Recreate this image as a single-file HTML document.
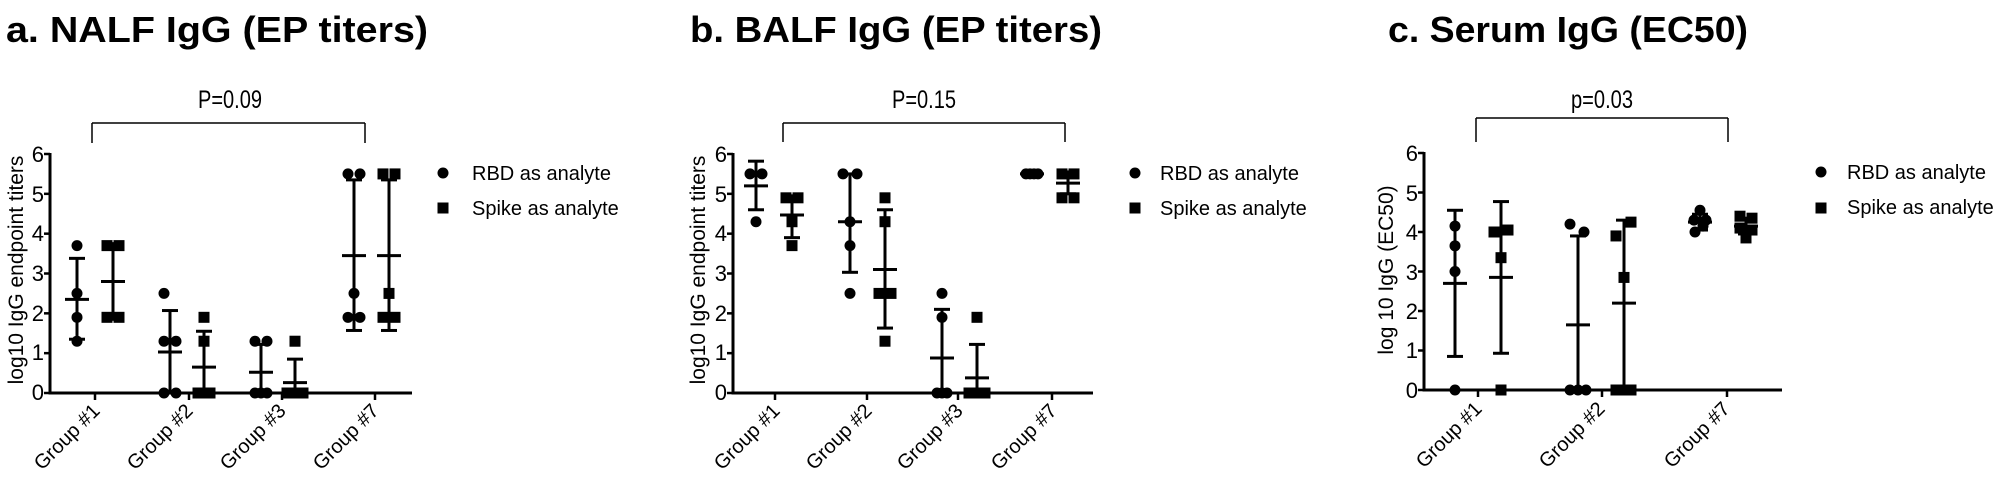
<!DOCTYPE html>
<html><head><meta charset="utf-8"><style>
html,body{margin:0;padding:0;background:#fff;}
svg{display:block;}
text{font-family:"Liberation Sans",Arial,sans-serif;fill:#000;}
.t{font-weight:bold;font-size:36px;}
.p{font-size:25px;}
.tk{font-size:22px;}
.lg{font-size:20px;}
.yl{font-size:21px;}
.gl{font-size:20px;}
</style></head><body>
<svg id="s" width="2006" height="495" viewBox="0 0 2006 495" xmlns="http://www.w3.org/2000/svg">
<g id="g"></g>
<text class="t" x="6" y="42" textLength="422" lengthAdjust="spacingAndGlyphs">a.  NALF IgG (EP titers)</text>
<text class="t" x="690" y="42" textLength="412" lengthAdjust="spacingAndGlyphs">b. BALF IgG (EP titers)</text>
<text class="t" x="1388" y="42" textLength="360" lengthAdjust="spacingAndGlyphs">c.  Serum IgG (EC50)</text>
<text class="p" x="230" y="108" text-anchor="middle" textLength="64" lengthAdjust="spacingAndGlyphs">P=0.09</text>
<text class="p" x="924" y="108" text-anchor="middle" textLength="64" lengthAdjust="spacingAndGlyphs">P=0.15</text>
<text class="p" x="1602" y="108" text-anchor="middle" textLength="62" lengthAdjust="spacingAndGlyphs">p=0.03</text>
<text class="yl" transform="translate(23,270) rotate(-90)" text-anchor="middle">log10 IgG endpoint titers</text>
<text class="yl" transform="translate(705,270) rotate(-90)" text-anchor="middle">log10 IgG endpoint titers</text>
<text class="yl" transform="translate(1393,270) rotate(-90)" text-anchor="middle">log 10 IgG (EC50)</text>
<g class="tk" text-anchor="end">
<text x="44" y="400">0</text><text x="44" y="360">1</text><text x="44" y="321">2</text><text x="44" y="281">3</text><text x="44" y="241">4</text><text x="44" y="202">5</text><text x="44" y="162">6</text>
<text x="727" y="400">0</text><text x="727" y="360">1</text><text x="727" y="321">2</text><text x="727" y="281">3</text><text x="727" y="241">4</text><text x="727" y="202">5</text><text x="727" y="162">6</text>
<text x="1418" y="398">0</text><text x="1418" y="358">1</text><text x="1418" y="319">2</text><text x="1418" y="280">3</text><text x="1418" y="240">4</text><text x="1418" y="201">5</text><text x="1418" y="161">6</text>
</g>
<g class="gl" text-anchor="end">
<text transform="translate(101,412) rotate(-45)">Group #1</text>
<text transform="translate(194,412) rotate(-45)">Group #2</text>
<text transform="translate(287,412) rotate(-45)">Group #3</text>
<text transform="translate(380,412) rotate(-45)">Group #7</text>
<text transform="translate(781,412) rotate(-45)">Group #1</text>
<text transform="translate(873,412) rotate(-45)">Group #2</text>
<text transform="translate(964,412) rotate(-45)">Group #3</text>
<text transform="translate(1058,412) rotate(-45)">Group #7</text>
<text transform="translate(1483,410) rotate(-45)">Group #1</text>
<text transform="translate(1606,410) rotate(-45)">Group #2</text>
<text transform="translate(1731,410) rotate(-45)">Group #7</text>
</g>
<g class="lg">
<text x="472" y="180">RBD as analyte</text><text x="472" y="215">Spike as analyte</text>
<text x="1160" y="180">RBD as analyte</text><text x="1160" y="215">Spike as analyte</text>
<text x="1847" y="179">RBD as analyte</text><text x="1847" y="214">Spike as analyte</text>
</g>
</svg>
<script>
var g=document.getElementById('g'),NS='http://www.w3.org/2000/svg';
function el(t,a){var e=document.createElementNS(NS,t);for(var k in a)e.setAttribute(k,a[k]);g.appendChild(e);return e;}
function ln(x1,y1,x2,y2,w){el('line',{x1:x1,y1:y1,x2:x2,y2:y2,stroke:'#000','stroke-width':w||3});}
function circ(x,y){el('circle',{cx:x,cy:y,r:5.5,fill:'#000'});}
function sq(x,y){el('rect',{x:x-5.5,y:y-5.5,width:11,height:11,fill:'#000'});}
function panel(P){
 var Y=function(v){return P.y0-(P.y0-P.y6)*v/6;};
 ln(P.ax,P.y6-1,P.ax,P.y0+1.5,3);ln(P.ax,P.y0,P.end,P.y0,3);
 for(var i=0;i<=6;i++)ln(P.ax-6,Y(i),P.ax,Y(i),2.5);
 P.ticks.forEach(function(t){ln(t,P.y0,t,P.y0+7,2.5);});
 ln(P.br[0],P.br[2],P.br[1],P.br[2],1.5);ln(P.br[0],P.br[2],P.br[0],P.br[3],1.5);ln(P.br[1],P.br[2],P.br[1],P.br[3],1.5);
 circ(P.lx,P.ly1);sq(P.lx,P.ly2);
 P.data.forEach(function(d){
  var x=d.x;
  var lo=Math.max(0,d.lo),hi=d.hi;
  ln(x,Y(lo),x,Y(hi),3);
  if(d.lo>0.02)ln(x-8,Y(lo),x+8,Y(lo),3);
  ln(x-8,Y(hi),x+8,Y(hi),3);
  ln(x-12,Y(d.m),x+12,Y(d.m),3);
  d.pts.forEach(function(p){var px=x+(p[1]||0),py=Y(p[0]);if(d.s)sq(px,py);else circ(px,py);});
 });
}
panel({ax:50,end:412,y0:393,y6:154,ticks:[95,189,282,375],br:[92,365,123,143],lx:443,ly1:173,ly2:208,data:[
 {x:77,m:2.35,lo:1.35,hi:3.38,pts:[[3.7],[2.5],[1.9],[1.3]]},
 {x:113,s:1,m:2.8,lo:1.85,hi:3.75,pts:[[3.7,-6],[3.7,6],[1.9,-6],[1.9,6]]},
 {x:170,m:1.03,lo:0,hi:2.07,pts:[[2.5,-6],[1.3,-6],[1.3,6],[0,-6],[0,6]]},
 {x:204,s:1,m:0.65,lo:0,hi:1.55,pts:[[1.9],[1.3],[0,-6],[0,0],[0,6]]},
 {x:261,m:0.52,lo:0,hi:1.22,pts:[[1.3,-6],[1.3,6],[0,-6],[0,0],[0,6]]},
 {x:295,s:1,m:0.26,lo:0,hi:0.85,pts:[[1.3],[0,-8],[0,-3],[0,3],[0,8]]},
 {x:354,m:3.45,lo:1.57,hi:5.35,pts:[[5.5,-6],[5.5,6],[2.5],[1.9,-6],[1.9,6]]},
 {x:389,s:1,m:3.45,lo:1.57,hi:5.35,pts:[[5.5,-6],[5.5,6],[2.5],[1.9,-6],[1.9,6]]}
]});
panel({ax:733,end:1093,y0:393,y6:154,ticks:[775,867,958,1052],br:[783,1065,123,142],lx:1135,ly1:173,ly2:208,data:[
 {x:756,m:5.2,lo:4.6,hi:5.82,pts:[[5.5,-6],[5.5,6],[4.3]]},
 {x:792,s:1,m:4.47,lo:3.9,hi:4.95,pts:[[4.9,-6],[4.9,6],[4.3],[3.7]]},
 {x:850,m:4.3,lo:3.03,hi:5.5,pts:[[5.5,-7],[5.5,7],[4.3],[3.7],[2.5]]},
 {x:885,s:1,m:3.1,lo:1.63,hi:4.6,pts:[[4.9],[4.3],[2.5,-6],[2.5,6],[1.3]]},
 {x:942,m:0.88,lo:0,hi:2.1,pts:[[2.5],[1.9],[0,-5],[0,0],[0,5]]},
 {x:977,s:1,m:0.38,lo:0,hi:1.22,pts:[[1.9],[0,-8],[0,-3],[0,3],[0,8]]},
 {x:1032,m:5.5,lo:5.5,hi:5.5,pts:[[5.5,-6],[5.5,-2],[5.5,2],[5.5,6]]},
 {x:1068,s:1,m:5.27,lo:5.0,hi:5.55,pts:[[5.5,-6],[5.5,6],[4.9,-6],[4.9,6]]}
]});
panel({ax:1424,end:1782,y0:390,y6:153,ticks:[1478,1602,1727],br:[1476,1728,118,142],lx:1821,ly1:172,ly2:208,data:[
 {x:1455,m:2.7,lo:0.85,hi:4.55,pts:[[4.15],[3.65],[3.0],[0]]},
 {x:1501,s:1,m:2.85,lo:0.93,hi:4.77,pts:[[4.0,-7],[4.05,7],[3.35],[0]]},
 {x:1578,m:1.65,lo:0,hi:3.9,pts:[[4.2,-8],[4.0,6],[0,-8],[0,0],[0,8]]},
 {x:1624,s:1,m:2.2,lo:0.1,hi:4.3,pts:[[3.9,-8],[4.25,7],[2.85],[0,-8],[0,0],[0,7]]},
 {x:1700,m:4.25,lo:4.05,hi:4.45,pts:[[4.55],[4.3,-6],[4.3,6],[4.15,3],[4.0,-5]]},
 {x:1746,s:1,m:4.15,lo:3.95,hi:4.35,pts:[[4.4,-6],[4.35,6],[4.1,-6],[4.05,6],[3.85]]}
]});
</script>
</body></html>
